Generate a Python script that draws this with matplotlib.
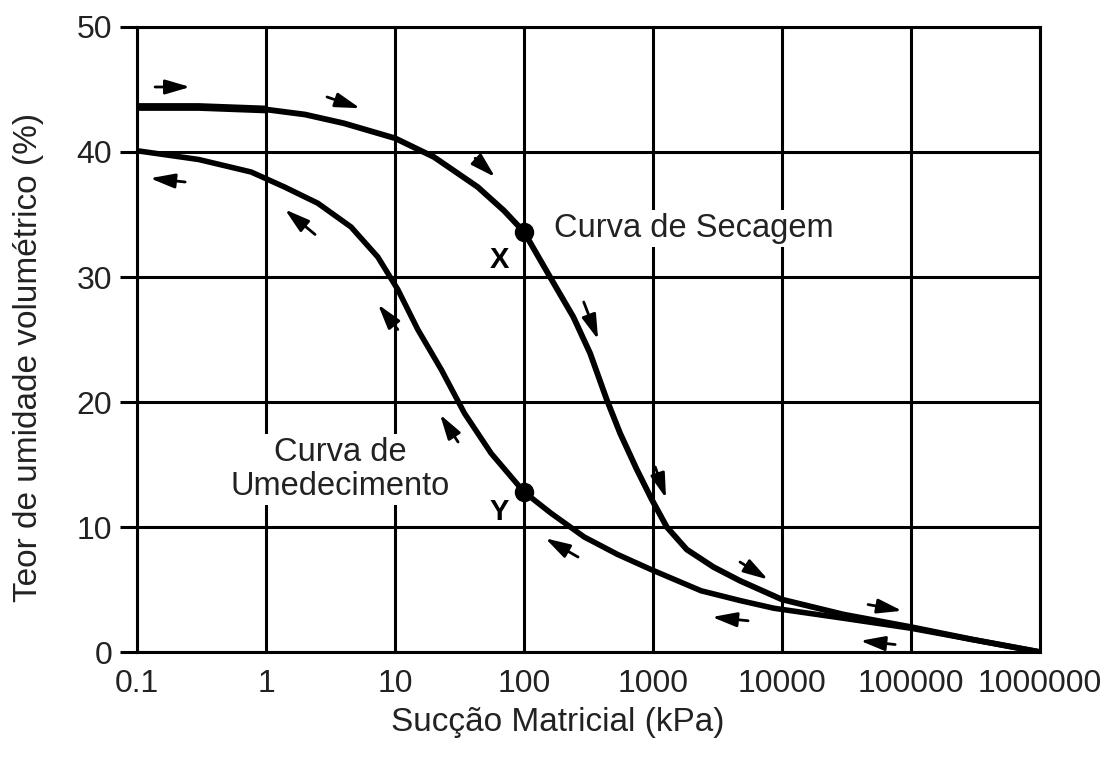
import matplotlib
matplotlib.use("Agg")
from matplotlib import pyplot as plt
import numpy as np

plt.rcParams["font.family"] = ["Liberation Sans", "DejaVu Sans"]

# curva de secagem (drying branch)
seca_x = [0.1, 0.3, 1, 2, 4, 10, 20, 43.7, 70, 100, 159, 241, 325, 437, 555,
          748, 977, 1277, 1824, 2937, 4720, 10000, 30000, 100000, 300000, 1000000]
seca_y = [43.6, 43.6, 43.4, 43.0, 42.3, 41.1, 39.6, 37.2, 35.3, 33.6, 30.0, 26.8,
          23.9, 20.2, 17.5, 14.6, 12.2, 10.0, 8.2, 6.8, 5.7, 4.2, 3.0, 2.0, 1.0, 0.0]

# curva de umedecimento (wetting branch)
umed_x = [0.1, 0.3, 0.766, 1.39, 2.52, 4.56, 7.35, 10.5, 15, 22.8, 34.5, 55.5,
          100, 162, 293, 532, 964, 2355, 4800, 8670, 30000, 100000, 1000000]
umed_y = [40.1, 39.4, 38.4, 37.2, 35.9, 34.0, 31.6, 29.0, 25.8, 22.6, 19.1, 15.9,
          12.8, 11.1, 9.2, 7.8, 6.6, 4.9, 4.1, 3.5, 2.7, 1.9, 0.0]

# pontos X e Y
pontos_nome = ["X", "Y"]
pontos_x = [100, 100]
pontos_y = [33.6, 12.8]
rotulo_x = [64, 64]
rotulo_y = [31.4, 11.2]

# setas de direção: (cauda, cabeça)
setas_seca = [((0.138, 45.2), (0.258, 45.2)),
              ((2.97, 44.4), (5.36, 43.5)),
              ((41.7, 39.5), (59.6, 38.0)),
              ((290, 28.0), (375, 25.0)),
              ((1040, 14.8), (1260, 12.3)),
              ((4720, 7.2), (7780, 5.8)),
              ((46400, 3.8), (85100, 3.3))]
setas_umed = [((0.236, 37.6), (0.126, 37.9)),
              ((2.40, 33.4), (1.40, 35.4)),
              ((10.5, 25.8), (7.38, 27.8)),
              ((30.8, 16.8), (22.3, 19.0)),
              ((262, 7.6), (146, 9.1)),
              ((5450, 2.5), (2860, 2.8)),
              ((75200, 0.6), (40300, 0.9))]

xticks = [0.1, 1, 10, 100, 1000, 10000, 100000, 1000000]
xtick_labels = ["0.1", "1", "10", "100", "1000", "10000", "100000", "1000000"]
yticks = [0, 10, 20, 30, 40, 50]

fig = plt.figure(figsize=(11.16, 7.58), dpi=100)
ax = fig.add_axes([0.1228, 0.1398, 0.8092, 0.8246])

ax.set_xscale("log")
ax.set_xlim(0.1, 1000000)
ax.set_ylim(0, 50)

ax.grid(True, which="major", color="black", linewidth=2.2)
ax.minorticks_off()
for s in ax.spines.values():
    s.set_linewidth(2.2)

ax.set_xticks(xticks)
ax.set_xticklabels(xtick_labels)
ax.set_yticks(yticks)
ax.tick_params(axis="x", length=0, pad=12, labelsize=23, labelcolor="#222222")
ax.tick_params(axis="y", length=12, width=2.2, pad=6, labelsize=23, labelcolor="#222222")

ax.plot(seca_x, seca_y, color="black", linewidth=4.2, solid_capstyle="butt",
        solid_joinstyle="round", zorder=4)
ax.plot(seca_x[:3], seca_y[:3], color="black", linewidth=5.6, solid_capstyle="butt", zorder=4)
ax.plot(umed_x, umed_y, color="black", linewidth=4.0, solid_capstyle="butt",
        solid_joinstyle="round", zorder=4)
ax.plot(pontos_x, pontos_y, "o", color="black", markersize=13, zorder=5)

for (tail, head) in setas_seca + setas_umed:
    ax.annotate("", xy=head, xytext=tail,
                arrowprops=dict(arrowstyle="-|>,head_length=0.75,head_width=0.22",
                                color="black", lw=2.0, mutation_scale=20,
                                shrinkA=0, shrinkB=0),
                zorder=5)

for nome, lx, ly in zip(pontos_nome, rotulo_x, rotulo_y):
    ax.text(lx, ly, nome, fontsize=21, fontweight="bold",
            ha="center", va="center", zorder=5)

ax.text(170, 33.9, "Curva de Secagem", fontsize=23.5, color="#222222",
        ha="left", va="center", zorder=3,
        bbox=dict(facecolor="white", edgecolor="none", pad=2))
ax.text(3.75, 14.6, "Curva de\nUmedecimento", fontsize=23.5, color="#222222",
        ha="center", va="center", linespacing=1.1, zorder=3,
        bbox=dict(facecolor="white", edgecolor="none", pad=2))

ax.set_xlabel("Sucção Matricial (kPa)", fontsize=24, color="#222222")
ax.set_ylabel("Teor de umidade volumétrico (%)", fontsize=24, color="#222222")
ax.xaxis.set_label_coords(0.466, -0.088)
ax.yaxis.set_label_coords(-0.103, 0.472)

fig.savefig("out.png", dpi=100)
